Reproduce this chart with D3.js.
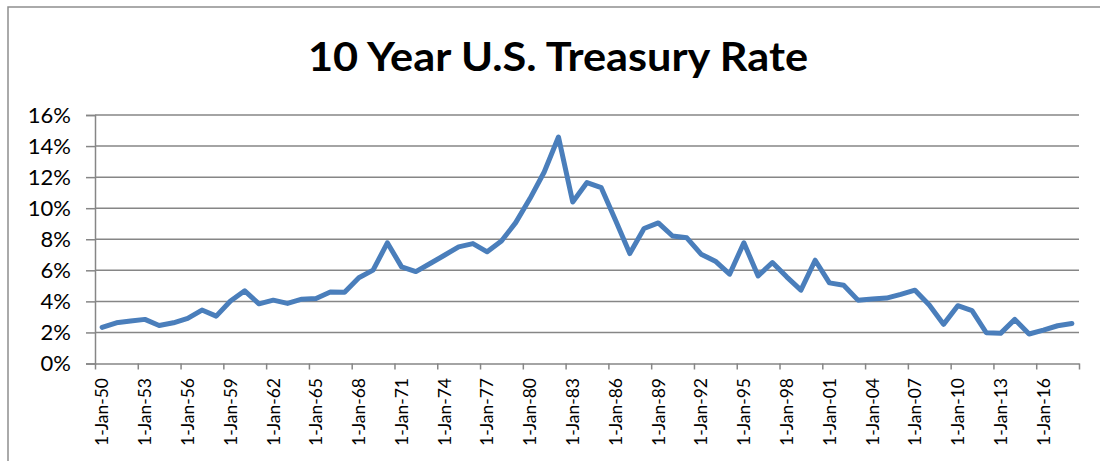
<!DOCTYPE html>
<html>
<head>
<meta charset="utf-8">
<script src="https://cdn.jsdelivr.net/npm/d3@7"></script>
<style>
  body { margin: 0; background: #fff; }
  svg { display: block; }
  text { font-family: Lato, "Open Sans", sans-serif; fill: #000; }
</style>
</head>
<body>
<svg id="chart" width="1100" height="461"></svg>
<script>
// annual points, Jan of each year
const years = d3.range(1950, 2019);
const rates = [
  2.33, 2.62, 2.73, 2.84, 2.45, 2.62, 2.90, 3.44, 3.05, 4.02,
  4.68, 3.84, 4.08, 3.87, 4.14, 4.19, 4.60, 4.58, 5.52, 6.01,
  7.77, 6.22, 5.92, 6.44, 6.97, 7.51, 7.72, 7.19, 7.89, 9.07,
  10.62, 12.33, 14.58, 10.40, 11.65, 11.32, 9.22, 7.08, 8.69, 9.05,
  8.21, 8.09, 7.04, 6.59, 5.75, 7.77, 5.64, 6.50, 5.58, 4.72,
  6.65, 5.19, 5.04, 4.08, 4.15, 4.21, 4.45, 4.72, 3.76, 2.52,
  3.72, 3.40, 1.98, 1.94, 2.84, 1.90, 2.15, 2.43, 2.58
];
const yTicks = [0, 2, 4, 6, 8, 10, 12, 14, 16];
const labelYears = [1950, 1953, 1956, 1959, 1962, 1965, 1968, 1971, 1974, 1977, 1980,
  1983, 1986, 1989, 1992, 1995, 1998, 2001, 2004, 2007, 2010, 2013, 2016];

const data = years.map((yr, i) => ({year: yr, rate: rates[i]}));

const svg = d3.select("#chart");
const plot = {left: 95, right: 1079, top: 115, bottom: 363.5};
const gray = "#868686";

// chart frame
svg.append("rect")
  .attr("x", 8).attr("y", 7)
  .attr("width", 1110).attr("height", 470)
  .attr("fill", "none").attr("stroke", "#8e8e8e").attr("stroke-width", 1.5);

// title
svg.append("text")
  .attr("x", 558).attr("y", 71)
  .attr("text-anchor", "middle")
  .attr("textLength", 500).attr("lengthAdjust", "spacingAndGlyphs")
  .style("font-size", "40px").style("font-weight", 700)
  .text("10 Year U.S. Treasury Rate");

const x = d3.scaleBand().domain(years).range([plot.left, plot.right]);
const xEdge = d3.scaleLinear().domain([0, years.length]).range([plot.left, plot.right]);
const y = d3.scaleLinear().domain([0, 16]).range([plot.bottom, plot.top]);
const cx = d => x(d) + x.bandwidth() / 2;

// gridlines
svg.append("g")
  .selectAll("line")
  .data(yTicks.filter(d => d > 0))
  .join("line")
  .attr("x1", plot.left).attr("x2", plot.right)
  .attr("y1", d => y(d)).attr("y2", d => y(d))
  .attr("stroke", gray).attr("stroke-width", 1.5);

// y axis
const yAxis = svg.append("g")
  .attr("transform", `translate(${plot.left},0)`)
  .call(d3.axisLeft(y).tickValues(yTicks).tickFormat(d => d + "%").tickSize(9).tickPadding(15));
yAxis.select(".domain").attr("stroke", gray).attr("stroke-width", 1.5);
yAxis.selectAll(".tick line").attr("stroke", gray).attr("stroke-width", 1.5);
yAxis.selectAll(".tick text").style("font-size", "22px").attr("font-family", null);

// x axis: ticks between categories, every 3rd
const xAxis = svg.append("g")
  .attr("transform", `translate(0,${plot.bottom})`)
  .call(d3.axisBottom(xEdge).tickValues(d3.range(0, years.length + 1, 3)).tickFormat("").tickSize(6).tickSizeOuter(0));
xAxis.select(".domain").attr("stroke", gray).attr("stroke-width", 1.5);
xAxis.selectAll(".tick line").attr("stroke", gray).attr("stroke-width", 1.5);

svg.append("g")
  .selectAll("text")
  .data(labelYears)
  .join("text")
  .attr("transform", d => `translate(${cx(d)},378) rotate(-90)`)
  .attr("text-anchor", "end")
  .attr("dy", "0.36em")
  .style("font-size", "17.5px")
  .text(d => "1-Jan-" + String(d % 100).padStart(2, "0"));

// the line
const line = d3.line()
  .x(d => cx(d.year))
  .y(d => y(d.rate));

svg.append("path")
  .datum(data)
  .attr("d", line)
  .attr("fill", "none")
  .attr("stroke", "#4a7ebb")
  .attr("stroke-width", 5)
  .attr("stroke-linejoin", "round")
  .attr("stroke-linecap", "round");
</script>
</body>
</html>
